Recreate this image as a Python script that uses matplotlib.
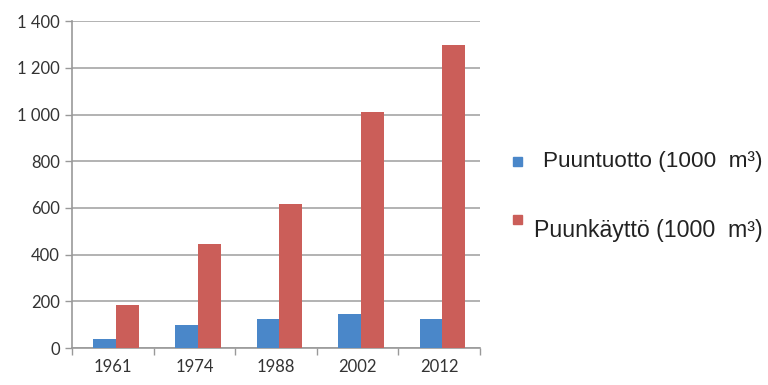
import matplotlib.pyplot as plt
from matplotlib.patches import Rectangle
from matplotlib.ticker import FuncFormatter
import numpy as np

years = ['1961', '1974', '1988', '2002', '2012']
tuotto = [40, 100, 126, 144, 126]
kaytto = [186, 447, 619, 1010, 1300]
labels = ['Puuntuotto (1000  m³)', 'Puunkäyttö (1000  m³)']
colors = ['#4A87C9', '#CB5E59']

fig = plt.figure(figsize=(7.68, 3.85), dpi=100)
ax = fig.add_axes([0.094, 0.096, 0.531, 0.849])

x = np.arange(len(years))
w = 0.28
ax.bar(x - w / 2 + 0.04, tuotto, w, color=colors[0], zorder=3)
ax.bar(x + w / 2 + 0.04, kaytto, w, color=colors[1], zorder=3)

ax.set_xlim(-0.5, len(years) - 0.5)
ax.set_ylim(0, 1400)
ax.set_yticks(range(0, 1401, 200))
ax.yaxis.set_major_formatter(FuncFormatter(lambda v, p: f'{int(v):,}'.replace(',', ' ')))
ax.grid(axis='y', color='#a6a6a6', linewidth=1.2, zorder=0)

ax.set_xticks(x)
ax.set_xticklabels(years)
ax.set_xticks(np.arange(-0.5, len(years)), minor=True)
ax.tick_params(axis='x', which='major', length=0, pad=8)
ax.tick_params(axis='x', which='minor', length=5, color='#999999', width=1)
ax.tick_params(axis='y', length=5, color='#999999', width=1, pad=4)

for s in ['top', 'right']:
    ax.spines[s].set_visible(False)
for s in ['left', 'bottom']:
    ax.spines[s].set_color('#999999')
    ax.spines[s].set_linewidth(1.2)

for lab in ax.get_xticklabels() + ax.get_yticklabels():
    lab.set_fontfamily('Lato')
    lab.set_fontsize(12)
    lab.set_color('#333333')

# legend drawn by hand to keep the odd offsets
fig.patches.append(Rectangle((513 / 768, 1 - 166 / 385), 9 / 768, 9 / 385,
                             transform=fig.transFigure, color=colors[0]))
fig.patches.append(Rectangle((513 / 768, 1 - 224 / 385), 9 / 768, 9 / 385,
                             transform=fig.transFigure, color=colors[1]))
fig.text(543 / 768, 1 - 162 / 385, labels[0], fontsize=16.2, family='Liberation Sans',
         va='center', color='#222222')
fig.text(534 / 768, 1 - 230 / 385, labels[1], fontsize=16.7, family='Liberation Sans',
         va='center', color='#222222')

fig.savefig('out.png', dpi=100)
